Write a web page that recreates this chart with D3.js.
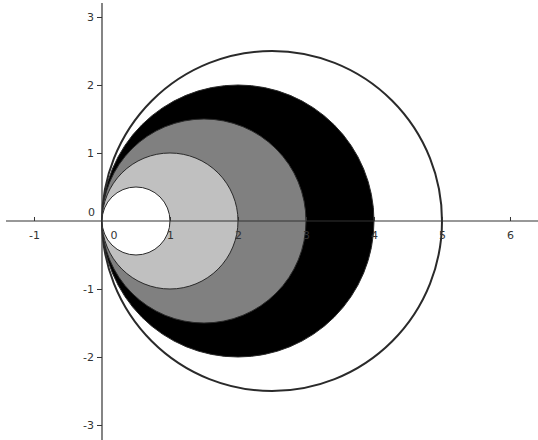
<!DOCTYPE html>
<html>
<head>
<meta charset="utf-8">
<script src="https://cdn.jsdelivr.net/npm/d3@7"></script>
<style>
  body { margin: 0; background: #fff; }
  .tick text { font-family: "DejaVu Sans", sans-serif; font-size: 11px; fill: #333; }
</style>
</head>
<body>
<div id="chart"></div>
<script>
const svgWidth = 538;
const svgHeight = 440;

// circles tangent at the origin, diameters along the x axis
const diameters = [5, 4, 3, 2, 1];
const fills = ["#ffffff", "#000000", "#808080", "#c0c0c0", "#ffffff"];

const xTicks = [-1, 0, 1, 2, 3, 4, 5, 6];
const yTicks = [-3, -2, -1, 0, 1, 2, 3];

// origin at (102, 221), 68 px per unit
const xScale = d3.scaleLinear()
    .domain([-1.5, 6.4118])
    .range([0, svgWidth]);

const yScale = d3.scaleLinear()
    .domain([3.25, -3.2206])
    .range([0, svgHeight]);

const svg = d3.select("#chart")
    .append("svg")
    .attr("width", svgWidth)
    .attr("height", svgHeight);

// circles, biggest first
svg.append("g")
    .selectAll("circle")
    .data(diameters)
    .enter()
    .append("circle")
    .attr("cx", d => xScale(d / 2))
    .attr("cy", yScale(0))
    .attr("r", d => xScale(d / 2) - xScale(0))
    .attr("fill", (d, i) => fills[i])
    .attr("stroke", "#2a2a2a")
    .attr("stroke-width", (d, i) => i === 0 ? 2 : 1);

// axis lines
svg.append("line")
    .attr("x1", 6).attr("x2", svgWidth)
    .attr("y1", yScale(0)).attr("y2", yScale(0))
    .attr("stroke", "#333").attr("stroke-width", 1.2);

svg.append("line")
    .attr("x1", xScale(0)).attr("x2", xScale(0))
    .attr("y1", 3).attr("y2", svgHeight)
    .attr("stroke", "#333").attr("stroke-width", 1.2);

// x axis ticks (pointing up, labels below)
const xAxis = svg.append("g")
    .attr("transform", `translate(0, ${yScale(0)})`)
    .call(d3.axisBottom(xScale)
        .tickValues(xTicks.filter(d => d !== 0))
        .tickSizeInner(-4)
        .tickSizeOuter(0)
        .tickPadding(10)
        .tickFormat(d => d < 0 ? "-" + Math.abs(d) : d));
xAxis.select(".domain").remove();
xAxis.selectAll(".tick line").attr("stroke", "#333");

// y axis ticks (pointing left, labels left)
const yAxis = svg.append("g")
    .attr("transform", `translate(${xScale(0)}, 0)`)
    .call(d3.axisLeft(yScale)
        .tickValues(yTicks.filter(d => d !== 0))
        .tickSize(5)
        .tickPadding(3)
        .tickFormat(d => d < 0 ? "-" + Math.abs(d) : d));
yAxis.select(".domain").remove();
yAxis.selectAll(".tick line").attr("stroke", "#333");

// the two zero labels near the origin
svg.append("text")
    .attr("x", xScale(0) - 7)
    .attr("y", yScale(0) - 5)
    .attr("text-anchor", "end")
    .style("font-family", "DejaVu Sans, sans-serif")
    .style("font-size", "11px")
    .attr("fill", "#333")
    .text("0");

svg.append("text")
    .attr("x", xScale(0) + 12)
    .attr("y", yScale(0) + 10)
    .attr("dy", "0.71em")
    .attr("text-anchor", "middle")
    .style("font-family", "DejaVu Sans, sans-serif")
    .style("font-size", "11px")
    .attr("fill", "#333")
    .text("0");
</script>
</body>
</html>
